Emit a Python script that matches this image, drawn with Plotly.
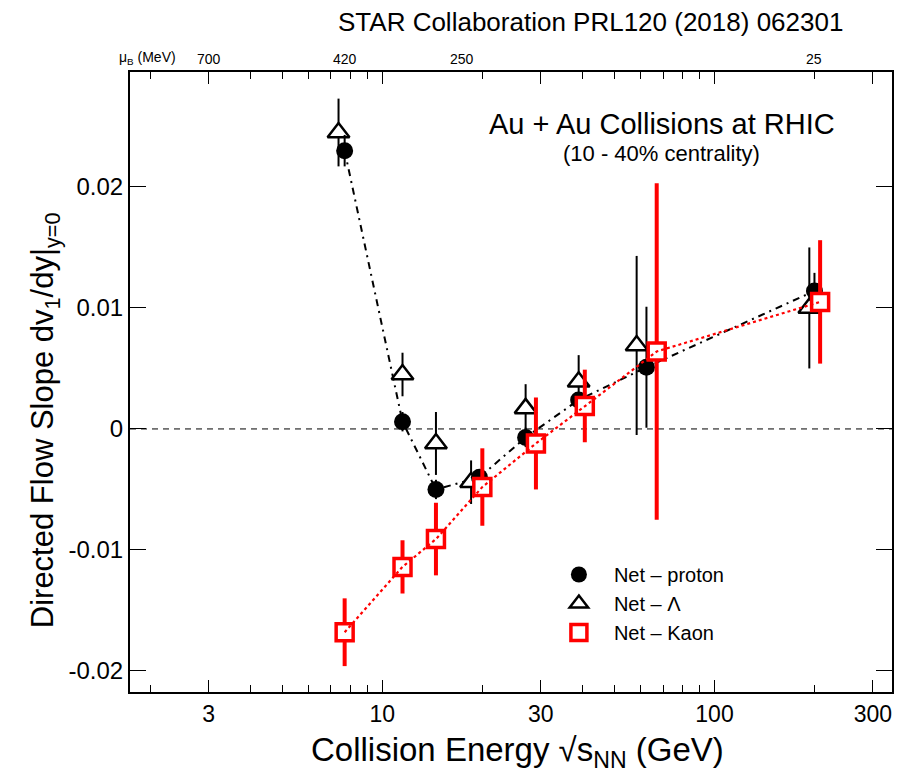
import numpy as np
import plotly.graph_objects as go

# ---------------- data ----------------
energy_p = [7.7, 11.5, 14.5, 19.6, 27, 39, 62.4, 200]
slope_p = [0.0230, 0.0006, -0.0050, -0.0040, -0.0007, 0.0024, 0.0051, 0.0114]
err_p = [0.0013, 0.0008, 0.0008, 0.0006, 0.0008, 0.0006, 0.0050, 0.0015]

energy_l = [7.38, 11.5, 14.5, 18.5, 27, 39, 58.3, 193]
slope_l = [0.0245, 0.0045, -0.0012, -0.0044, 0.0017, 0.0039, 0.0069, 0.0100]
err_l = [0.0028, 0.0018, 0.0026, 0.0018, 0.0020, 0.0022, 0.0074, 0.0050]

energy_k = [7.7, 11.5, 14.5, 20.0, 29.0, 40.7, 67, 208]
slope_k = [-0.0168, -0.0114, -0.0091, -0.0048, -0.0012, 0.0019, 0.0064, 0.0105]
err_k = [0.0028, 0.0022, 0.0030, 0.0032, 0.0038, 0.0030, 0.0139, 0.0051]

mu_b_energy = [3, 7.7, 17.4, 200]
mu_b_labels = ["700", "420", "250", "25"]

x_tickvals = [3, 10, 30, 100, 300]
x_ticktext = ["3", "10", "30", "100", "300"]
x_minor = [2, 4, 5, 6, 7, 8, 9, 20, 40, 50, 60, 70, 80, 90, 200]
y_tickvals = [-0.02, -0.01, 0, 0.01, 0.02]
y_ticktext = ["-0.02", "-0.01", "0", "0.01", "0.02"]

FONT = "Liberation Sans, Arial, sans-serif"

fig = go.Figure()

# connecting line (proton)
fig.add_trace(go.Scatter(x=energy_p, y=slope_p, mode="lines", showlegend=False,
                         line=dict(color="black", width=2, dash="7px,5px,2px,5px"),
                         hoverinfo="skip"))

# markers with error bars
fig.add_trace(go.Scatter(
    x=energy_l, y=slope_l, mode="markers", name="Net \u2013 \u039b",
    marker=dict(symbol="triangle-up", size=19, color="white",
                line=dict(color="black", width=2.5)),
    error_y=dict(type="data", array=err_l, color="black", thickness=2, width=0)))

fig.add_trace(go.Scatter(
    x=energy_p, y=slope_p, mode="markers", name="Net \u2013 proton",
    marker=dict(symbol="circle", size=17, color="black", line=dict(width=0)),
    error_y=dict(type="data", array=err_p, color="black", thickness=2, width=0)))

fig.add_trace(go.Scatter(
    x=energy_k, y=slope_k, mode="markers", name="Net \u2013 Kaon",
    marker=dict(symbol="square", size=17, color="white",
                line=dict(color="#ff0000", width=3.5)),
    error_y=dict(type="data", array=err_k, color="#ff0000", thickness=4, width=0)))

# connecting line (kaon), drawn on top like the reference
fig.add_trace(go.Scatter(x=energy_k, y=slope_k, mode="lines", showlegend=False,
                         line=dict(color="#ff0000", width=2.2, dash="dot"),
                         hoverinfo="skip"))

# legend order: proton, lambda, kaon
fig.data[1].legendrank = 2
fig.data[2].legendrank = 1
fig.data[3].legendrank = 3

# zero line
fig.add_shape(type="line", xref="paper", yref="y", x0=0, x1=1, y0=0, y1=0,
              line=dict(color="black", width=1, dash="6px,5px"), layer="below")

annotations = []
for e, lab in zip(mu_b_energy, mu_b_labels):
    annotations.append(dict(x=np.log10(e), y=1.0, xref="x", yref="paper",
                            text=lab, showarrow=False, yanchor="bottom", yshift=3,
                            font=dict(size=14, color="black", family=FONT)))
annotations += [
    dict(x=-0.017, y=1.0, xref="paper", yref="paper", text="\u03bc<sub>B</sub> (MeV)",
         showarrow=False, xanchor="left", yanchor="bottom", yshift=3,
         font=dict(size=14, color="black", family=FONT)),
    dict(x=(663 - 130) / 764, y=(692 - 124) / 620, xref="paper", yref="paper",
         text="Au + Au Collisions at RHIC",
         showarrow=False, xanchor="center", yanchor="middle",
         font=dict(size=29, color="black", family=FONT)),
    dict(x=(663 - 130) / 764, y=(692 - 153) / 620, xref="paper", yref="paper",
         text="(10 - 40% centrality)",
         showarrow=False, xanchor="center", yanchor="middle",
         font=dict(size=22, color="black", family=FONT)),
    dict(x=(592 - 130) / 764, y=(692 - 22) / 620, xref="paper", yref="paper",
         text="STAR Collaboration PRL120 (2018) 062301",
         showarrow=False, xanchor="center", yanchor="middle",
         font=dict(size=26, color="black", family=FONT)),
    dict(x=(45 - 130) / 764, y=(692 - 420) / 620, xref="paper", yref="paper",
         text="Directed Flow Slope dv<sub>1</sub>/dy|<sub>y=0</sub>", textangle=-90,
         showarrow=False, xanchor="center", yanchor="middle",
         font=dict(size=31, color="black", family=FONT)),
    dict(x=(519 - 130) / 764, y=(692 - 752) / 620, xref="paper", yref="paper",
         text="Collision Energy \u221as<sub>NN</sub> (GeV)",
         showarrow=False, xanchor="center", yanchor="middle",
         font=dict(size=33, color="black", family=FONT)),
]

fig.update_layout(
    width=898, height=776,
    margin=dict(l=130, r=4, t=72, b=84),
    paper_bgcolor="white", plot_bgcolor="white",
    font=dict(family=FONT, color="black"),
    annotations=annotations,
    legend=dict(x=(545 - 130) / 764, y=(692 - 555) / 620, xanchor="left", yanchor="top",
                bgcolor="rgba(0,0,0,0)", font=dict(size=20, family=FONT, color="black"),
                traceorder="normal", itemsizing="trace", itemwidth=60),
    xaxis=dict(type="log", range=[0.2402, 2.5345], showgrid=False, zeroline=False,
               showline=True, linecolor="black", linewidth=2, mirror="ticks",
               ticks="inside", ticklen=12, tickwidth=1, tickcolor="black",
               tickvals=x_tickvals, ticktext=x_ticktext,
               tickfont=dict(size=23, family=FONT, color="black"),
               minor=dict(tickvals=x_minor, ticks="inside", ticklen=7,
                          tickwidth=1, tickcolor="black", showgrid=False)),
    yaxis=dict(range=[-0.02174, 0.0295], showgrid=False, zeroline=False,
               showline=True, linecolor="black", linewidth=2, mirror="ticks",
               ticks="inside", ticklen=16, tickwidth=1, tickcolor="black",
               tickvals=y_tickvals, ticktext=y_ticktext,
               tickfont=dict(size=24, family=FONT, color="black")),
)

fig.write_html("out.html")
